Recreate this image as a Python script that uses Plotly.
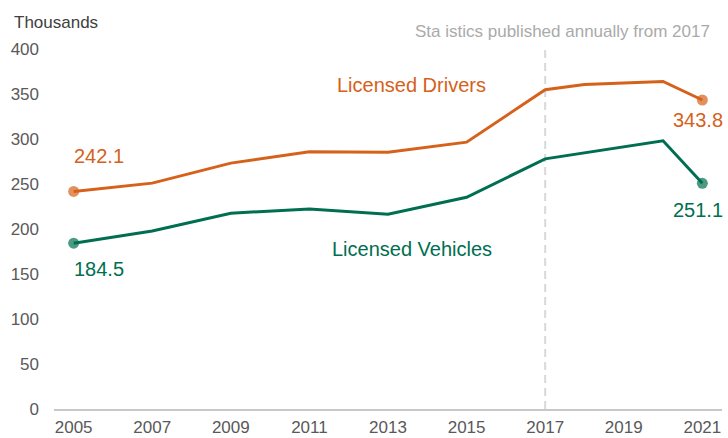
import plotly.graph_objects as go

years = [2005, 2007, 2009, 2011, 2013, 2015, 2017, 2018, 2019, 2020, 2021]
drivers = [242.1, 251.3, 273.6, 286.2, 285.8, 296.9, 355.2, 361.0, 362.6, 364.4, 343.8]
vehicles = [184.5, 198.1, 217.8, 222.6, 216.7, 235.6, 278.3, 285.0, 291.6, 298.4, 251.1]
x_ticks = [2005, 2007, 2009, 2011, 2013, 2015, 2017, 2019, 2021]
y_ticks = [0, 50, 100, 150, 200, 250, 300, 350, 400]

ORANGE = "#D6611A"
GREEN = "#006E50"
FONT = "Liberation Sans, Arial, sans-serif"

def end_sizes(n):
    return [11] + [0] * (n - 2) + [11]

fig = go.Figure()
fig.add_trace(go.Scatter(x=years, y=drivers, mode="lines+markers",
                         line=dict(color=ORANGE, width=3),
                         marker=dict(size=end_sizes(len(years)), color=ORANGE,
                                     line=dict(width=0)),
                         hoverinfo="x+y", showlegend=False))
fig.add_trace(go.Scatter(x=years, y=vehicles, mode="lines+markers",
                         line=dict(color=GREEN, width=3),
                         marker=dict(size=end_sizes(len(years)), color=GREEN,
                                     line=dict(width=0)),
                         hoverinfo="x+y", showlegend=False))

fig.add_shape(type="line", x0=2017, x1=2017, y0=0, y1=1, xref="x", yref="paper",
              line=dict(color="#D9D9D9", width=2, dash="8px,5px"), layer="below")

ann = [
    dict(text="Licensed Drivers", x=2013.6, y=360, color=ORANGE, size=20, xanchor="center"),
    dict(text="Licensed Vehicles", x=2013.6, y=177.5, color=GREEN, size=20, xanchor="center"),
    dict(text="242.1", x=2004.97, y=282, color=ORANGE, size=20, xanchor="left"),
    dict(text="184.5", x=2004.97, y=155.8, color=GREEN, size=20, xanchor="left"),
    dict(text="343.8", x=2020.9, y=321.5, color=ORANGE, size=20, xanchor="center"),
    dict(text="251.1", x=2020.9, y=220.9, color=GREEN, size=20, xanchor="center"),
]
for a in ann:
    fig.add_annotation(text=a["text"], x=a["x"], y=a["y"], xref="x", yref="y",
                       showarrow=False, xanchor=a["xanchor"], yanchor="middle",
                       font=dict(color=a["color"], size=a["size"], family=FONT))

T, B, L, R = 45, 29, 54, 6
W, H = 728, 438
plot_h = H - T - B
plot_w = W - L - R

fig.add_annotation(text="Thousands", xref="paper", yref="paper",
                   x=(12 - L) / plot_w, y=(H - B - 23) / plot_h,
                   xanchor="left", yanchor="middle", showarrow=False,
                   font=dict(color="#404040", size=17, family=FONT))
fig.add_annotation(text="Sta istics published annually from 2017", xref="paper", yref="paper",
                   x=(712 - L) / plot_w, y=(H - B - 32) / plot_h,
                   xanchor="right", yanchor="middle", showarrow=False,
                   font=dict(color="#AAAAAA", size=17, family=FONT))

fig.update_layout(
    width=W, height=H,
    margin=dict(l=L, r=R, t=T, b=B, autoexpand=False),
    paper_bgcolor="white", plot_bgcolor="white",
    font=dict(family=FONT, size=17, color="#595959"),
    xaxis=dict(range=[2004.5, 2021.5], tickvals=x_ticks, ticktext=[str(t) for t in x_ticks],
               showgrid=False, zeroline=False, showline=True, linecolor="#C8C8C8",
               linewidth=1.5, ticks="", tickfont=dict(size=17, color="#595959"),
               ticklabelstandoff=2, automargin=False),
    yaxis=dict(range=[0, 405], tickvals=y_ticks, showgrid=False, zeroline=False,
               showline=False, ticks="", tickfont=dict(size=17, color="#595959"),
               ticklabelstandoff=14, automargin=False),
)

fig.write_html("out.html", config={"displayModeBar": False},
               post_script="document.body.style.margin='0';document.body.style.overflow='hidden';")
